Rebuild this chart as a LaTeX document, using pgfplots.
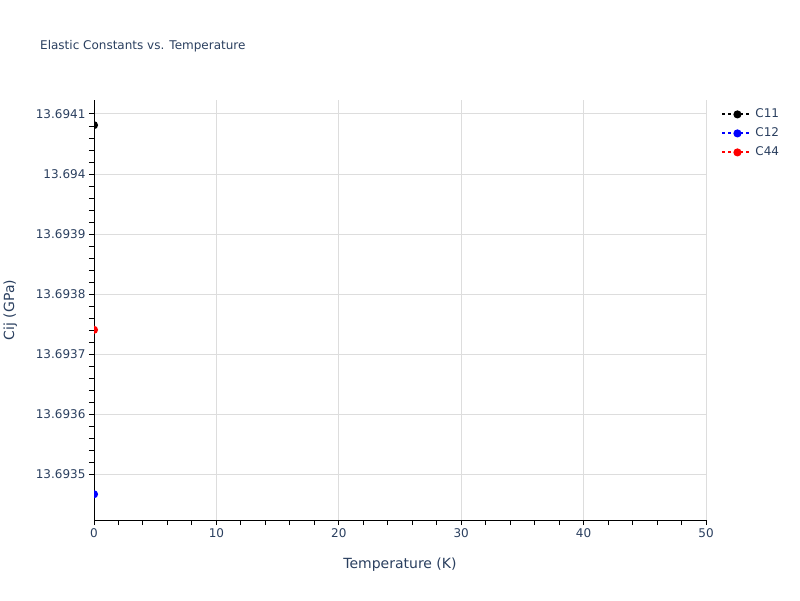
\documentclass[border=0pt]{standalone}
\usepackage{pgfplots}
\pgfplotsset{compat=1.18}
\usepackage{fontspec}
\setmainfont{DejaVu Sans}
\definecolor{plotlytext}{HTML}{2A3F5F}
\definecolor{gridgray}{HTML}{DDDDDD}

\begin{document}
\begin{tikzpicture}[x=1pt,y=1pt]
\path[use as bounding box] (0,0) rectangle (800,600);
\node[anchor=base west, inner sep=0, text=plotlytext,
      font=\fontsize{12}{15}\selectfont] at (40,550) {Elastic Constants vs. Temperature};
\begin{axis}[
    at={(94pt,80pt)}, anchor=south west,
    scale only axis, width=612pt, height=420pt,
    xmin=0, xmax=50,
    % y is plotted in units of 1e-4 GPa above 13.6935 GPa (TeX's fpu cannot resolve 1e-5 on 13.69)
    ymin=-0.761, ymax=6.233,
    axis lines*=left, axis line style={-, black, line width=1pt},
    clip mode=individual, clip marker paths=true,
    xtick={0,10,...,50}, minor x tick num=4,
    ytick={0,1,2,3,4,5,6},
    yticklabels={13.6935,13.6936,13.6937,13.6938,13.6939,13.694,13.6941},
    minor y tick num=4,
    tick align=outside,
    major tick length=5pt, minor tick length=5pt,
    every tick/.style={black, line width=1pt},
    xmajorgrids, ymajorgrids,
    major grid style={gridgray, line width=1pt},
    /pgf/number format/assume math mode=true,
    ticklabel style={font=\fontsize{12}{14}\selectfont, text=plotlytext},
    xlabel={Temperature (K)}, ylabel={Cij (GPa)},
    every axis x label/.style={at={(axis description cs:0.5,-0.106)}, anchor=center,
        font=\fontsize{14}{16}\selectfont, text=plotlytext},
    every axis y label/.style={at={(axis description cs:-0.137,0.5)}, anchor=center, rotate=90,
        font=\fontsize{14}{16}\selectfont, text=plotlytext},
    legend image code/.code={
        \draw[mark repeat=2, mark phase=2, #1] plot coordinates {(0pt,0pt) (15pt,0pt) (30pt,0pt)};
    },
    legend style={at={(axis description cs:1.02,0.99)}, anchor=north west,
        draw=none, fill=none, font=\fontsize{12}{14}\selectfont, text=plotlytext,
        row sep=3pt, nodes={inner sep=2pt, text height=9pt, text depth=3pt}},
    legend cell align=left,
]
% C11 = 13.6940814 GPa
\addplot[black, line width=2pt, dash pattern=on 3pt off 3pt, mark=*, mark size=3pt,
    mark options={solid}] coordinates {(0, 5.814)};
% C12 = 13.6934668 GPa
\addplot[blue, line width=2pt, dash pattern=on 3pt off 3pt, mark=*, mark size=3pt,
    mark options={solid}] coordinates {(0, -0.332)};
% C44 = 13.6937406 GPa
\addplot[red, line width=2pt, dash pattern=on 3pt off 3pt, mark=*, mark size=3pt,
    mark options={solid}] coordinates {(0, 2.406)};
\legend{C11, C12, C44}
\end{axis}
\end{tikzpicture}
\end{document}
